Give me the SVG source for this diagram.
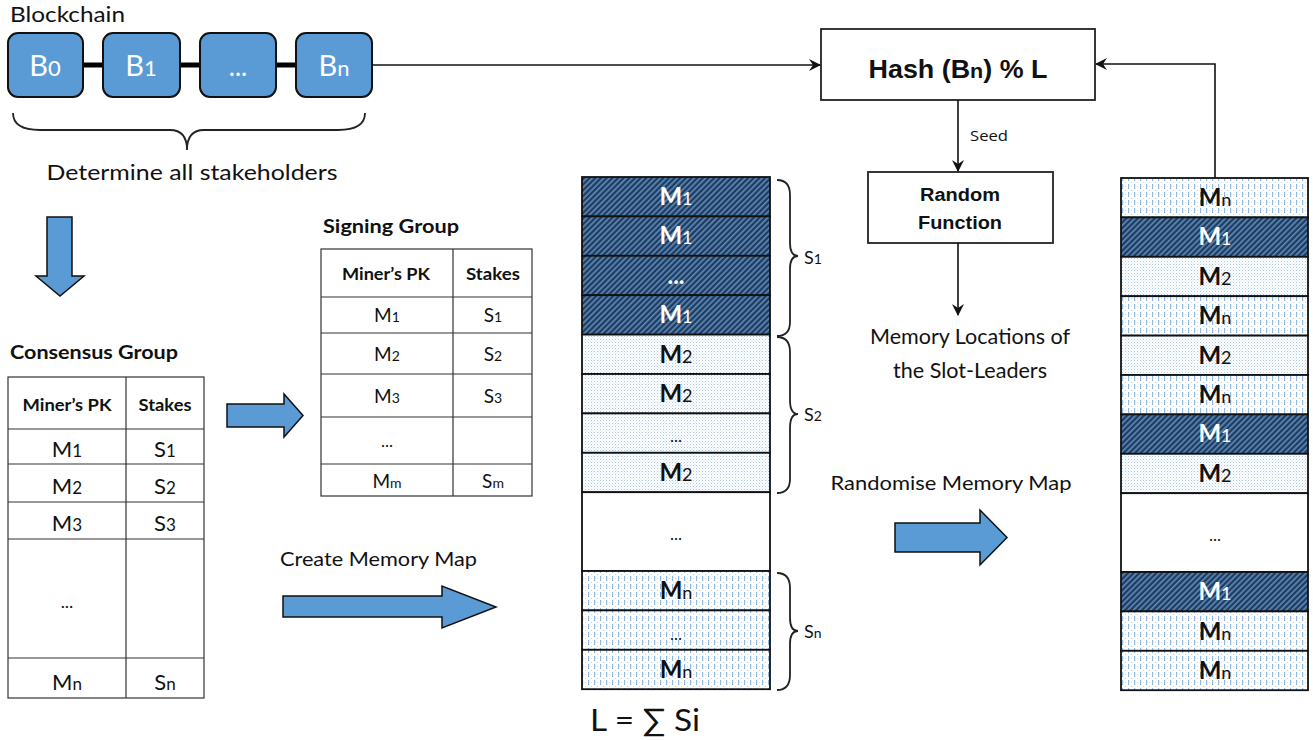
<svg xmlns="http://www.w3.org/2000/svg" width="1313" height="741" viewBox="0 0 1313 741">
<defs>
<style>
.t{font-family:Lato,"Open Sans","Liberation Sans",sans-serif;fill:#111}
.a{font-family:"Liberation Sans",Arial,sans-serif;font-weight:bold;fill:#111}
.b{font-weight:bold}
.blk{fill:#5B9BD5;stroke:#111;stroke-width:2}
.cell{fill:#fff;stroke:#333;stroke-width:1.2}
.ln{stroke:#111;stroke-width:1.6;fill:none}
.brace{stroke:#222;stroke-width:1.8;fill:none}
.fat{fill:#5B9BD5;stroke:#111;stroke-width:1.5}
.row{stroke:#111;stroke-width:1.8}
.mt{font-family:Lato,"Open Sans","Liberation Sans",sans-serif;font-weight:bold;font-size:24px;text-anchor:middle}
.w{fill:#fff}
.k{fill:#111}
.sub{font-size:18px;font-weight:normal}
</style>
<pattern id="pdark" width="4" height="4" patternUnits="userSpaceOnUse" patternTransform="rotate(45)">
<rect width="4" height="4" fill="#1F3B5E"/>
<rect width="1.6" height="4" fill="#5F8DBD"/>
</pattern>
<pattern id="pdot" width="3" height="3" patternUnits="userSpaceOnUse">
<rect width="3" height="3" fill="#fff"/>
<rect width="1" height="1" fill="#A9C9EA"/>
<rect x="1.5" y="1.5" width="1" height="1" fill="#C9DDF2"/>
</pattern>
<pattern id="pdash" width="6" height="8" patternUnits="userSpaceOnUse">
<rect width="6" height="8" fill="#fff"/>
<rect x="0" y="0" width="1.2" height="5" fill="#8FB8E3"/>
<rect x="3" y="2" width="1" height="1" fill="#C3D8EF"/>
<rect x="3" y="6" width="1" height="1" fill="#C3D8EF"/>
</pattern>
<marker id="ar" viewBox="0 0 12 12" refX="11" refY="6" markerWidth="12" markerHeight="12" markerUnits="userSpaceOnUse" orient="auto">
<path d="M0,0 L12,6 L0,12 L4,6 z" fill="#111"/>
</marker>
</defs>

<g id="blockchain">
<text class="t" x="10" y="22" font-size="21" textLength="115" lengthAdjust="spacingAndGlyphs">Blockchain</text>
<line x1="83" y1="65" x2="103" y2="65" stroke="#000" stroke-width="5"/>
<line x1="180" y1="65" x2="200" y2="65" stroke="#000" stroke-width="5"/>
<line x1="276" y1="65" x2="296" y2="65" stroke="#000" stroke-width="5"/>
<rect class="blk" x="8" y="33" width="75" height="64" rx="10"/>
<rect class="blk" x="103" y="33" width="77" height="64" rx="10"/>
<rect class="blk" x="200" y="33" width="76" height="64" rx="10"/>
<rect class="blk" x="296" y="33" width="76" height="64" rx="10"/>
<text class="t" x="45" y="76" font-size="29" style="fill:#fff" text-anchor="middle">B<tspan font-size="22">0</tspan></text>
<text class="t" x="141" y="76" font-size="29" style="fill:#fff" text-anchor="middle">B<tspan font-size="22">1</tspan></text>
<text class="t" x="238" y="76" font-size="26" style="fill:#fff" text-anchor="middle">...</text>
<text class="t" x="334" y="76" font-size="29" style="fill:#fff" text-anchor="middle">B<tspan font-size="22">n</tspan></text>
<path class="brace" d="M13,113 Q13,130 40,130 L170,130 Q187,130 187,150 Q187,130 204,130 L338,130 Q365,130 365,113"/>
<text class="t" x="192" y="180" font-size="22" text-anchor="middle" textLength="291" lengthAdjust="spacingAndGlyphs">Determine all stakeholders</text>
</g>

<g id="hash">
<rect x="821" y="29" width="274" height="71" fill="#fff" stroke="#222" stroke-width="1.8"/>
<text class="a" x="958" y="78" font-size="25" text-anchor="middle" textLength="179" lengthAdjust="spacingAndGlyphs">Hash (B<tspan font-size="20">n</tspan>) % L</text>
</g>

<g id="random">
<rect x="868" y="172" width="185" height="71" fill="#fff" stroke="#222" stroke-width="1.8"/>
<text class="a" x="960" y="201" font-size="18" text-anchor="middle" textLength="80" lengthAdjust="spacingAndGlyphs">Random</text>
<text class="a" x="960" y="229" font-size="18" text-anchor="middle" textLength="84" lengthAdjust="spacingAndGlyphs">Function</text>
</g>

<g id="memlocs">
<text class="t" x="970" y="344" font-size="21" text-anchor="middle" textLength="200" lengthAdjust="spacingAndGlyphs">Memory Locations of</text>
<text class="t" x="970" y="378" font-size="21" text-anchor="middle" textLength="154" lengthAdjust="spacingAndGlyphs">the Slot-Leaders</text>
</g>

<g id="arrow-down">
<path class="fat" d="M47,217 L72,217 L72,276 L84,276 L60,296 L36,276 L47,276 Z"/>
</g>

<g id="consensus">
<text class="t b" x="10" y="359" font-size="19" textLength="168" lengthAdjust="spacingAndGlyphs">Consensus Group</text>
<rect class="cell" x="8" y="377" width="196" height="321"/>
<line class="cell" x1="126" y1="377" x2="126" y2="698"/>
<line class="cell" x1="8" y1="429" x2="204" y2="429"/>
<line class="cell" x1="8" y1="464" x2="204" y2="464"/>
<line class="cell" x1="8" y1="502" x2="204" y2="502"/>
<line class="cell" x1="8" y1="539" x2="204" y2="539"/>
<line class="cell" x1="8" y1="658" x2="204" y2="658"/>
<text class="t b" x="67" y="411" font-size="17" text-anchor="middle" textLength="89" lengthAdjust="spacingAndGlyphs">Miner’s PK</text>
<text class="t b" x="165" y="411" font-size="17" text-anchor="middle" textLength="53" lengthAdjust="spacingAndGlyphs">Stakes</text>
<text class="t" x="67" y="457" font-size="22" text-anchor="middle">M<tspan font-size="17">1</tspan></text>
<text class="t" x="165" y="457" font-size="22" text-anchor="middle">S<tspan font-size="17">1</tspan></text>
<text class="t" x="67" y="494" font-size="22" text-anchor="middle">M<tspan font-size="17">2</tspan></text>
<text class="t" x="165" y="494" font-size="22" text-anchor="middle">S<tspan font-size="17">2</tspan></text>
<text class="t" x="67" y="531" font-size="22" text-anchor="middle">M<tspan font-size="17">3</tspan></text>
<text class="t" x="165" y="531" font-size="22" text-anchor="middle">S<tspan font-size="17">3</tspan></text>
<text class="t" x="67" y="608" font-size="18" text-anchor="middle">...</text>
<text class="t" x="67" y="690" font-size="22" text-anchor="middle">M<tspan font-size="17">n</tspan></text>
<text class="t" x="165" y="690" font-size="22" text-anchor="middle">S<tspan font-size="17">n</tspan></text>
</g>

<g id="arrow-right1">
<path class="fat" d="M227,404 L284,404 L284,394 L303,415.5 L284,437 L284,427 L227,427 Z"/>
</g>

<g id="signing">
<text class="t b" x="323" y="233" font-size="19" textLength="136" lengthAdjust="spacingAndGlyphs">Signing Group</text>
<rect class="cell" x="321" y="249" width="211" height="247"/>
<line class="cell" x1="453" y1="249" x2="453" y2="496"/>
<line class="cell" x1="321" y1="297" x2="532" y2="297"/>
<line class="cell" x1="321" y1="333" x2="532" y2="333"/>
<line class="cell" x1="321" y1="374" x2="532" y2="374"/>
<line class="cell" x1="321" y1="417" x2="532" y2="417"/>
<line class="cell" x1="321" y1="464" x2="532" y2="464"/>
<text class="t b" x="386" y="280" font-size="17" text-anchor="middle" textLength="88" lengthAdjust="spacingAndGlyphs">Miner’s PK</text>
<text class="t b" x="493" y="280" font-size="17" text-anchor="middle" textLength="54" lengthAdjust="spacingAndGlyphs">Stakes</text>
<text class="t" x="387" y="322" font-size="19" text-anchor="middle">M<tspan font-size="14">1</tspan></text>
<text class="t" x="493" y="322" font-size="19" text-anchor="middle">S<tspan font-size="14">1</tspan></text>
<text class="t" x="387" y="361" font-size="19" text-anchor="middle">M<tspan font-size="14">2</tspan></text>
<text class="t" x="493" y="361" font-size="19" text-anchor="middle">S<tspan font-size="14">2</tspan></text>
<text class="t" x="387" y="403" font-size="19" text-anchor="middle">M<tspan font-size="14">3</tspan></text>
<text class="t" x="493" y="403" font-size="19" text-anchor="middle">S<tspan font-size="14">3</tspan></text>
<text class="t" x="387" y="447" font-size="17" text-anchor="middle">...</text>
<text class="t" x="387" y="488" font-size="19" text-anchor="middle">M<tspan font-size="14">m</tspan></text>
<text class="t" x="493" y="488" font-size="19" text-anchor="middle">S<tspan font-size="14">m</tspan></text>
</g>

<g id="create-map">
<text class="t" x="280" y="566" font-size="20" textLength="197" lengthAdjust="spacingAndGlyphs">Create Memory Map</text>
<path class="fat" d="M283,596 L442,596 L442,586 L496,607 L442,628 L442,617 L283,617 Z"/>
</g>

<g id="memory-map">
<rect x="582" y="177" width="188" height="39.4" fill="url(#pdark)" class="row"/>
<rect x="582" y="216.4" width="188" height="39.4" fill="url(#pdark)" class="row"/>
<rect x="582" y="255.8" width="188" height="39.4" fill="url(#pdark)" class="row"/>
<rect x="582" y="295.2" width="188" height="39.4" fill="url(#pdark)" class="row"/>
<rect x="582" y="334.6" width="188" height="39.4" fill="url(#pdot)" class="row"/>
<rect x="582" y="374" width="188" height="39.4" fill="url(#pdot)" class="row"/>
<rect x="582" y="413.4" width="188" height="39.4" fill="url(#pdot)" class="row"/>
<rect x="582" y="452.8" width="188" height="39.4" fill="url(#pdot)" class="row"/>
<rect x="582" y="492.2" width="188" height="78.8" fill="#fff" class="row"/>
<rect x="582" y="571" width="188" height="39.4" fill="url(#pdash)" class="row"/>
<rect x="582" y="610.4" width="188" height="39.4" fill="url(#pdash)" class="row"/>
<rect x="582" y="649.8" width="188" height="39.4" fill="url(#pdash)" class="row"/>
<text class="mt w" x="676" y="205">M<tspan class="sub">1</tspan></text>
<text class="mt w" x="676" y="244">M<tspan class="sub">1</tspan></text>
<text class="mt w" x="676" y="284">...</text>
<text class="mt w" x="676" y="323">M<tspan class="sub">1</tspan></text>
<text class="mt k" x="676" y="363">M<tspan class="sub">2</tspan></text>
<text class="mt k" x="676" y="402">M<tspan class="sub">2</tspan></text>
<text class="t" x="676" y="442" font-size="17" text-anchor="middle">...</text>
<text class="mt k" x="676" y="481">M<tspan class="sub">2</tspan></text>
<text class="t" x="676" y="540" font-size="17" text-anchor="middle">...</text>
<text class="mt k" x="676" y="599">M<tspan class="sub">n</tspan></text>
<text class="t" x="676" y="640" font-size="17" text-anchor="middle">...</text>
<text class="mt k" x="676" y="678">M<tspan class="sub">n</tspan></text>
<path class="brace" d="M777,180 Q790,180 790,195 L790,243 Q790,256 798,256 Q790,256 790,269 L790,322 Q790,336 777,336"/>
<text class="t" x="804" y="264" font-size="18">S<tspan font-size="14">1</tspan></text>
<path class="brace" d="M777,337 Q790,337 790,352 L790,400 Q790,414 798,414 Q790,414 790,428 L790,479 Q790,493 777,493"/>
<text class="t" x="804" y="421" font-size="18">S<tspan font-size="14">2</tspan></text>
<path class="brace" d="M777,573 Q790,573 790,588 L790,618 Q790,631 798,631 Q790,631 790,644 L790,675 Q790,690 777,690"/>
<text class="t" x="804" y="638" font-size="18">S<tspan font-size="14">n</tspan></text>
<text class="t" x="590" y="731" font-size="31" textLength="110" lengthAdjust="spacingAndGlyphs">L = ∑ Si</text>
</g>

<g id="randomise">
<text class="t" x="951" y="490" font-size="20" text-anchor="middle" textLength="241" lengthAdjust="spacingAndGlyphs">Randomise Memory Map</text>
<path class="fat" d="M895,523 L980,523 L980,510 L1007,537.5 L980,565 L980,552 L895,552 Z"/>
</g>

<g id="random-map">
<rect x="1121" y="178" width="187" height="39.4" fill="url(#pdash)" class="row"/>
<rect x="1121" y="217.4" width="187" height="39.4" fill="url(#pdark)" class="row"/>
<rect x="1121" y="256.8" width="187" height="39.4" fill="url(#pdot)" class="row"/>
<rect x="1121" y="296.2" width="187" height="39.4" fill="url(#pdash)" class="row"/>
<rect x="1121" y="335.6" width="187" height="39.4" fill="url(#pdot)" class="row"/>
<rect x="1121" y="375" width="187" height="39.4" fill="url(#pdash)" class="row"/>
<rect x="1121" y="414.4" width="187" height="39.4" fill="url(#pdark)" class="row"/>
<rect x="1121" y="453.8" width="187" height="39.4" fill="url(#pdot)" class="row"/>
<rect x="1121" y="493.2" width="187" height="78.8" fill="#fff" class="row"/>
<rect x="1121" y="572" width="187" height="39.4" fill="url(#pdark)" class="row"/>
<rect x="1121" y="611.4" width="187" height="39.4" fill="url(#pdash)" class="row"/>
<rect x="1121" y="650.8" width="187" height="39.4" fill="url(#pdash)" class="row"/>
<text class="mt k" x="1215" y="206">M<tspan class="sub">n</tspan></text>
<text class="mt w" x="1215" y="245">M<tspan class="sub">1</tspan></text>
<text class="mt k" x="1215" y="285">M<tspan class="sub">2</tspan></text>
<text class="mt k" x="1215" y="324">M<tspan class="sub">n</tspan></text>
<text class="mt k" x="1215" y="364">M<tspan class="sub">2</tspan></text>
<text class="mt k" x="1215" y="403">M<tspan class="sub">n</tspan></text>
<text class="mt w" x="1215" y="442">M<tspan class="sub">1</tspan></text>
<text class="mt k" x="1215" y="482">M<tspan class="sub">2</tspan></text>
<text class="t" x="1215" y="541" font-size="17" text-anchor="middle">...</text>
<text class="mt w" x="1215" y="600">M<tspan class="sub">1</tspan></text>
<text class="mt k" x="1215" y="640">M<tspan class="sub">n</tspan></text>
<text class="mt k" x="1215" y="679">M<tspan class="sub">n</tspan></text>
</g>

<g id="connectors">
<line class="ln" x1="372" y1="65" x2="820" y2="65" marker-end="url(#ar)"/>
<polyline class="ln" points="1215,178 1215,64 1096,64" marker-end="url(#ar)"/>
<line class="ln" x1="958" y1="100" x2="958" y2="171" marker-end="url(#ar)"/>
<text x="970" y="141" font-family="'Open Sans','Liberation Sans',sans-serif" font-size="15" fill="#111" textLength="38" lengthAdjust="spacingAndGlyphs">Seed</text>
<line class="ln" x1="958" y1="243" x2="958" y2="315" marker-end="url(#ar)"/>
</g>
</svg>
